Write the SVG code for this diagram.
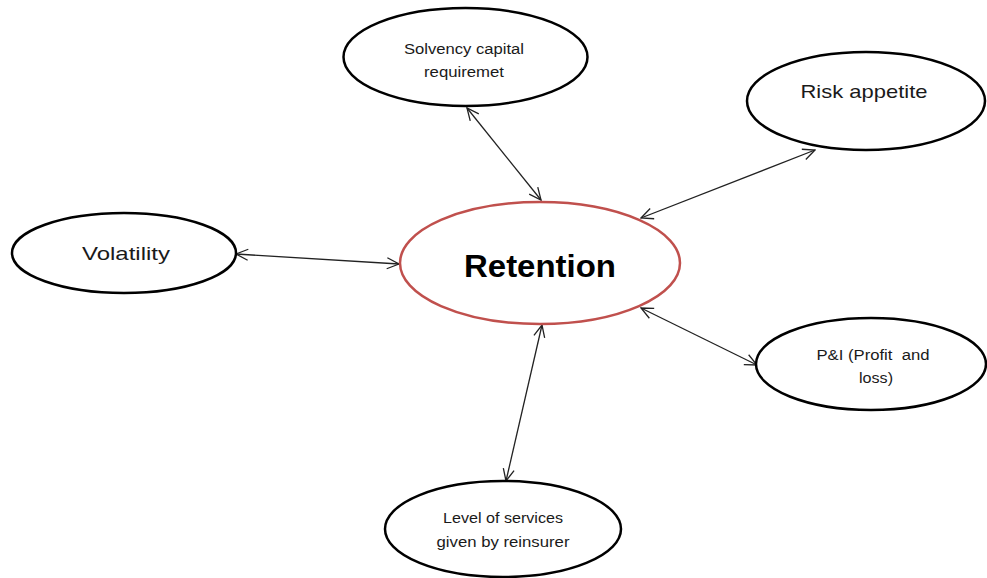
<svg xmlns="http://www.w3.org/2000/svg" width="987" height="578" viewBox="0 0 987 578">
<style>
.node{fill:#fff;stroke:#000;stroke-width:2.5}
.center{fill:#fff;stroke:#C0504D;stroke-width:2.5}
.t{font-family:"Liberation Sans",Arial,sans-serif;fill:#1a1a1a;text-anchor:middle}
.s{font-size:14px}
.m{font-size:19px}
.b{font-size:31px;font-weight:bold;fill:#000}
.c{fill:none;stroke:#222;stroke-width:1.3}
</style>
<defs>
<marker id="arr" viewBox="0 0 14 14" refX="13" refY="7" markerWidth="14" markerHeight="14" markerUnits="userSpaceOnUse" orient="auto-start-reverse">
<path d="M1,1.5 L13,7 L1,12.5" fill="none" stroke="#222" stroke-width="1.3"/>
</marker>
</defs>
<rect width="987" height="578" fill="#fff"/>
<g id="connectors">
<line class="c" x1="467" y1="108" x2="541" y2="200" marker-start="url(#arr)" marker-end="url(#arr)"/>
<line class="c" x1="815" y1="150" x2="641" y2="218" marker-start="url(#arr)" marker-end="url(#arr)"/>
<line class="c" x1="236" y1="254" x2="399" y2="264" marker-start="url(#arr)" marker-end="url(#arr)"/>
<line class="c" x1="641" y1="308" x2="757" y2="365" marker-start="url(#arr)" marker-end="url(#arr)"/>
<line class="c" x1="542" y1="325" x2="506" y2="481" marker-start="url(#arr)" marker-end="url(#arr)"/>
</g>
<g id="retention">
<ellipse class="center" cx="540" cy="263" rx="140" ry="61"/>
<text class="t b" x="540" y="277" textLength="152" lengthAdjust="spacingAndGlyphs">Retention</text>
</g>
<g id="solvency">
<ellipse class="node" cx="465.5" cy="57" rx="122" ry="49"/>
<text class="t s" x="464" y="54" textLength="120" lengthAdjust="spacingAndGlyphs">Solvency capital</text>
<text class="t s" x="464" y="77" textLength="80" lengthAdjust="spacingAndGlyphs">requiremet</text>
</g>
<g id="risk">
<ellipse class="node" cx="866" cy="101" rx="119" ry="49"/>
<text class="t m" x="864" y="98" textLength="127" lengthAdjust="spacingAndGlyphs">Risk appetite</text>
</g>
<g id="volatility">
<ellipse class="node" cx="124" cy="253" rx="112" ry="40"/>
<text class="t m" x="126" y="260" textLength="88" lengthAdjust="spacingAndGlyphs">Volatility</text>
</g>
<g id="pl">
<ellipse class="node" cx="871" cy="364" rx="115" ry="46"/>
<text class="t s" x="873" y="360" textLength="113" lengthAdjust="spacingAndGlyphs" style="white-space:pre" xml:space="preserve">P&amp;I (Profit  and</text>
<text class="t s" x="876" y="383" textLength="34" lengthAdjust="spacingAndGlyphs">loss)</text>
</g>
<g id="services">
<ellipse class="node" cx="503" cy="529" rx="118" ry="48"/>
<text class="t s" x="503" y="523" textLength="120" lengthAdjust="spacingAndGlyphs">Level of services</text>
<text class="t s" x="503" y="547" textLength="133" lengthAdjust="spacingAndGlyphs">given by reinsurer</text>
</g>
</svg>
